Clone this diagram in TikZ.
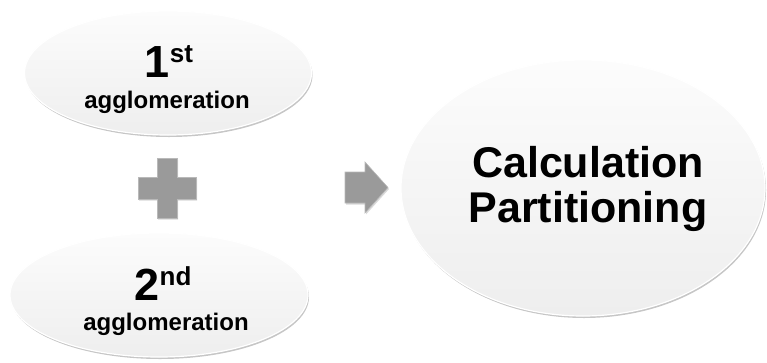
\documentclass[tikz,border=0pt]{standalone}
\usepackage{fontspec}
\setmainfont{Liberation Sans}
\usetikzlibrary{shapes.geometric,shadows}
\definecolor{bubble}{HTML}{EEEEEE}
\definecolor{bubbletop}{HTML}{FCFCFC}
\definecolor{shapegray}{HTML}{9A9A9A}
\tikzset{
  bubble/.style={ellipse, inner sep=0pt,
    top color=bubbletop, bottom color=bubble,
    draw=white, line width=1.2pt,
    drop shadow={shadow xshift=1pt, shadow yshift=-2pt, opacity=0.45, fill=gray}},
  label/.style={font=\bfseries, text=black, inner sep=0pt, anchor=base},
  glyph/.style={fill=shapegray, draw=gray!55, line width=0.6pt,
    drop shadow={shadow xshift=1pt, shadow yshift=-1.5pt, opacity=0.3, fill=gray}}
}
\newcommand{\bigsmall}[2]{\fontsize{45}{45}\selectfont #1\raisebox{15pt}{\fontsize{26}{26}\selectfont #2}}
\begin{document}
\begin{tikzpicture}[x=1pt, y=-1pt]
  \useasboundingbox (0,0) rectangle (767,362);

  % the two input bubbles and the result bubble
  \node[bubble, minimum width=287pt, minimum height=124pt] (first) at (168,73) {};
  \node[bubble, minimum width=298pt, minimum height=124pt] (second) at (159,295) {};
  \node[bubble, minimum width=364pt, minimum height=256pt] (result) at (583,188) {};

  % bubble texts
  \node[label] (firstnum) at (169,77) {\bigsmall{1}{st}};
  \node[label, font=\bfseries\fontsize{24}{24}\selectfont] (firstword) at (167,108) {agglomeration};
  \node[label] (secondnum) at (163,300) {\bigsmall{2}{nd}};
  \node[label, font=\bfseries\fontsize{24}{24}\selectfont] (secondword) at (166,330) {agglomeration};
  \node[label, font=\bfseries\fontsize{43}{43}\selectfont] (calcword) at (588,177) {Calculation};
  \node[label, font=\bfseries\fontsize{43}{43}\selectfont] (partword) at (588,222) {Partitioning};

  % plus sign between the inputs
  \path[glyph] (157,158) -- (177,158) -- (177,177) -- (196,177) -- (196,199)
    -- (177,199) -- (177,218) -- (157,218) -- (157,199) -- (138,199)
    -- (138,177) -- (157,177) -- cycle;

  % block arrow towards the result
  \path[glyph] (345,172) -- (365,172) -- (365,162) -- (388,187.5) -- (365,213)
    -- (365,203) -- (345,203) -- cycle;
\end{tikzpicture}
\end{document}
